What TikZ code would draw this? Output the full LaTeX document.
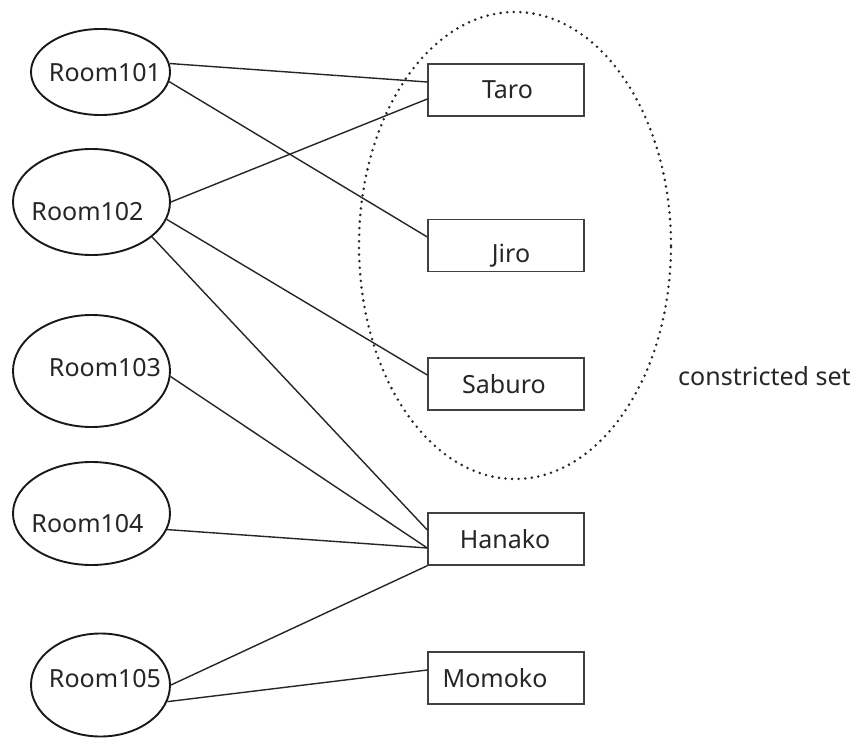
\documentclass[tikz,border=0pt]{standalone}
\usepackage{fontspec}
\setmainfont{Noto Sans}
\usetikzlibrary{shapes.geometric}
\begin{document}
\begin{tikzpicture}[x=1pt,y=-1pt,
  room/.style={draw=black!90, ellipse, line width=1.9pt, inner sep=0pt},
  pbox/.style={draw=black!75, line width=1.4pt, minimum width=156pt, minimum height=52pt, inner sep=0pt},
  lbl/.style={font=\fontsize{25}{29}\selectfont, inner sep=0pt, text=black!85, anchor=base},
  link/.style={line width=1.4pt, draw=black!85},
  cset/.style={draw=black!85, ellipse, inner sep=0pt, line width=2.8pt, dash pattern=on 0pt off 6.6pt, line cap=round}]
\useasboundingbox[fill=white] (0,0) rectangle (856,738);
% constricted set
\node[cset, minimum width=312pt, minimum height=467pt] (set) at (515,245.5) {};
\node[lbl, anchor=base west] (setlbl) at (678,385) {constricted set};
% rooms
\node[room, minimum width=139pt, minimum height=86pt] (r1) at (100.5,72) {};
\node[room, minimum width=157pt, minimum height=106pt] (r2) at (91.5,202) {};
\node[room, minimum width=157pt, minimum height=112pt] (r3) at (91.5,371) {};
\node[room, minimum width=157pt, minimum height=103pt] (r4) at (91.5,513.5) {};
\node[room, minimum width=139pt, minimum height=103pt] (r5) at (100.5,685) {};
\node[lbl] (r1t) at (105,82) {Room101};
\node[lbl] (r2t) at (87.5,220) {Room102};
\node[lbl] (r3t) at (105,376) {Room103};
\node[lbl] (r4t) at (87.5,532) {Room104};
\node[lbl] (r5t) at (105,687) {Room105};
% people
\node[pbox] (taro) at (506,90) {};
\node[pbox] (jiro) at (506,245.5) {};
\node[pbox] (saburo) at (506,384) {};
\node[pbox] (hanako) at (506,539) {};
\node[pbox] (momoko) at (506,678) {};
\node[lbl] (tarot) at (507.5,99) {Taro};
\node[lbl] (jirot) at (511,262) {Jiro};
\node[lbl] (saburot) at (504,393) {Saburo};
\node[lbl] (hanakot) at (505,548) {Hanako};
\node[lbl] (momokot) at (495,687) {Momoko};
% links
\draw[link] (r1.7) -- ([yshift=8pt]taro.west);
\draw[link] (r1.-8) -- ([yshift=8.5pt]jiro.west);
\draw[link] (r2.0) -- ([yshift=-9pt]taro.west);
\draw[link] (r2.-13) -- ([yshift=9pt]saburo.west);
\draw[link] (r2.-30) -- ([yshift=9pt]hanako.west);
\draw[link] (r3.-4) -- ([yshift=-9pt]hanako.west);
\draw[link] (r4.-12) -- ([yshift=-9pt]hanako.west);
\draw[link] (r5.0) -- (hanako.south west);
\draw[link] (r5.-14) -- ([yshift=8pt]momoko.west);
\end{tikzpicture}
\end{document}
